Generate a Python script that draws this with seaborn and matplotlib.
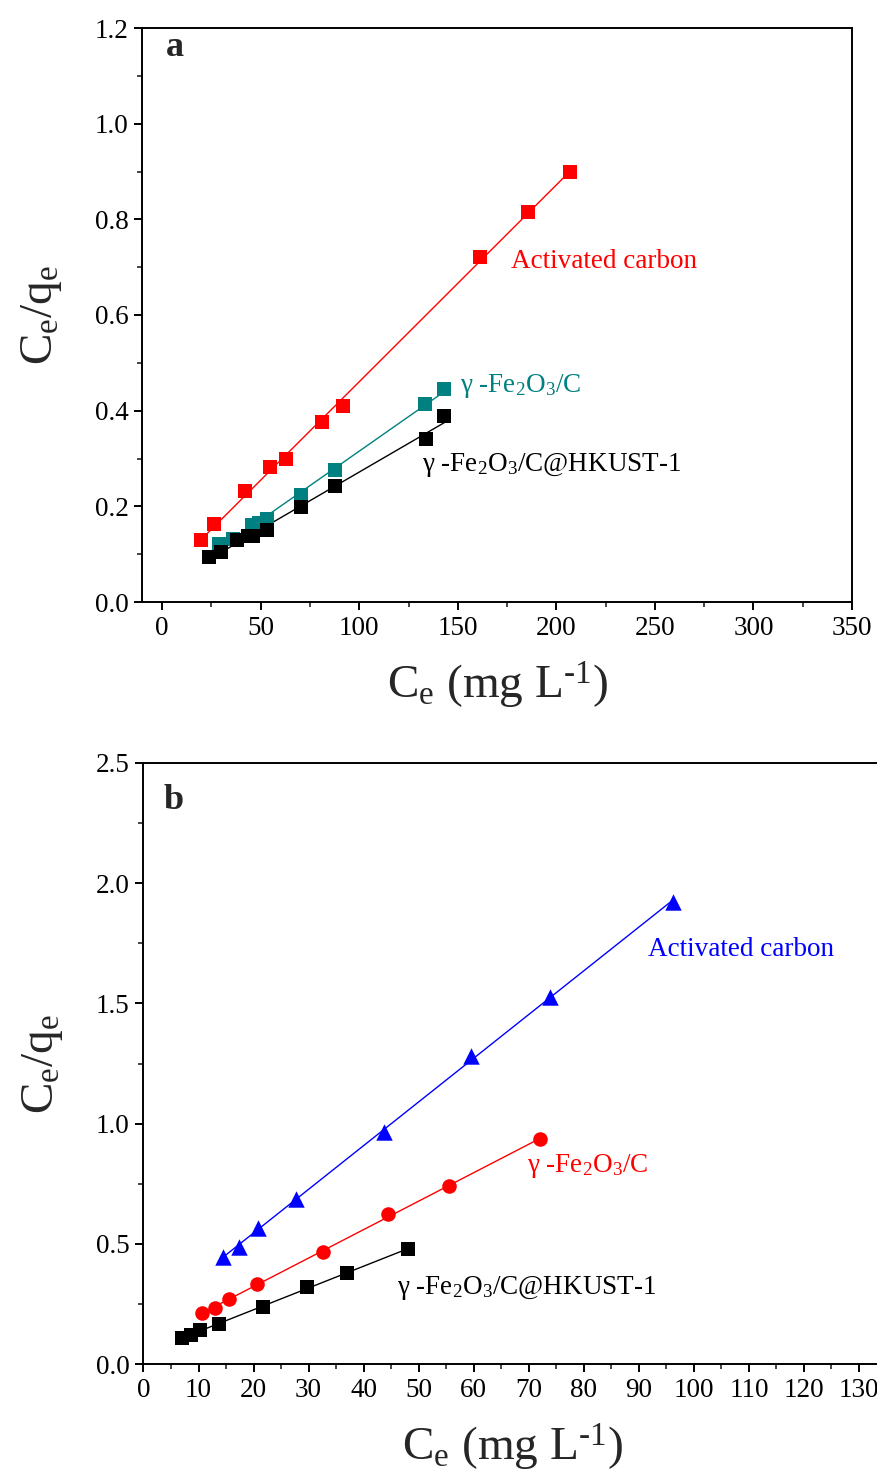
import numpy as np
import pandas as pd
import matplotlib
matplotlib.use("Agg")
import matplotlib.pyplot as plt
import seaborn as sns
from matplotlib.ticker import MultipleLocator

# ---------------- data: panel a ----------------
a_ac_x = [19.8, 26.4, 42.2, 54.7, 62.8, 81.3, 91.9, 161.0, 185.7, 206.7]
a_ac_y = [0.129, 0.163, 0.233, 0.282, 0.300, 0.376, 0.410, 0.721, 0.816, 0.898]
a_fe_x = [28.9, 35.9, 45.4, 48.9, 53.2, 70.4, 87.9, 133.4, 143.2]
a_fe_y = [0.121, 0.132, 0.161, 0.165, 0.173, 0.224, 0.276, 0.413, 0.445]
a_hk_x = [23.9, 29.8, 37.9, 43.3, 46.1, 53.3, 70.6, 87.9, 133.6, 143.2]
a_hk_y = [0.094, 0.105, 0.129, 0.138, 0.138, 0.151, 0.199, 0.243, 0.340, 0.389]

# ---------------- data: panel b ----------------
b_ac_x = [14.4, 17.4, 20.8, 27.7, 43.7, 59.5, 73.9, 96.2]
b_ac_y = [0.445, 0.487, 0.566, 0.686, 0.965, 1.281, 1.527, 1.922]
b_fe_x = [10.7, 13.0, 15.5, 20.7, 32.6, 44.5, 55.5, 72.0]
b_fe_y = [0.213, 0.234, 0.272, 0.332, 0.467, 0.623, 0.739, 0.936]
b_hk_x = [7.05, 8.6, 10.3, 13.8, 21.8, 29.7, 36.9, 48.1]
b_hk_y = [0.109, 0.121, 0.140, 0.168, 0.238, 0.319, 0.380, 0.478]

labels_a = ["Activated carbon", "γ -Fe$_2$O$_3$/C", "γ -Fe$_2$O$_3$/C@HKUST-1"]
labels_b = ["Activated carbon", "γ -Fe$_2$O$_3$/C", "γ -Fe$_2$O$_3$/C@HKUST-1"]
xlabel = r"C$_e$ (mg L$^{\text{-}1}$)"
ylabel = "C$_e$/q$_e$"

sns.set_theme(style="ticks")
plt.rcParams["font.family"] = ["Liberation Serif", "DejaVu Serif"]
plt.rcParams["mathtext.fontset"] = "custom"
plt.rcParams["mathtext.rm"] = "Liberation Serif"
plt.rcParams["mathtext.it"] = "Liberation Serif"
plt.rcParams["mathtext.default"] = "regular"

W, H = 878, 1479
fig = plt.figure(figsize=(W / 100, H / 100), dpi=100)


def px_axes(l, r, t, b):
    return fig.add_axes([l / W, 1 - b / H, (r - l) / W, (b - t) / H])


def style_axes(ax):
    for s in ax.spines.values():
        s.set_linewidth(1.4)
        s.set_color("black")
    ax.tick_params(which="major", direction="out", length=6, width=1.4,
                   labelsize=19.5, colors="black", pad=4)
    ax.tick_params(which="minor", direction="out", length=3.5, width=1.2)
    ax.tick_params(top=False, right=False, which="both")


def draw(ax, xs, ys, color, marker, size):
    df = pd.DataFrame({"x": xs, "y": ys})
    sns.regplot(data=df, x="x", y="y", ax=ax, ci=None, scatter=False,
                truncate=True, color=color, line_kws={"lw": 1.0})
    sns.scatterplot(data=df, x="x", y="y", ax=ax, color=color, marker=marker,
                    s=size, linewidth=0, zorder=3)


# ---------------- panel a ----------------
axa = px_axes(142.5, 852, 28, 602)
draw(axa, a_ac_x, a_ac_y, "#ff0000", "s", 95)
draw(axa, a_fe_x, a_fe_y, "#008080", "s", 95)
draw(axa, a_hk_x, a_hk_y, "#000000", "s", 95)
axa.set_xlim(-10, 350)
axa.set_ylim(0, 1.2)
axa.xaxis.set_major_locator(MultipleLocator(50))
axa.xaxis.set_minor_locator(MultipleLocator(25))
axa.yaxis.set_major_locator(MultipleLocator(0.2))
axa.yaxis.set_minor_locator(MultipleLocator(0.1))
axa.yaxis.set_major_formatter(matplotlib.ticker.FormatStrFormatter("%.1f"))
style_axes(axa)
axa.set_xlabel(xlabel, fontsize=34, labelpad=14)
axa.set_ylabel(ylabel, fontsize=34, labelpad=22)
axa.text(6.6, 1.159, "a", fontsize=26, fontweight="bold", ha="center", va="center")
axa.text(177, 0.711, labels_a[0], color="#ff0000", fontsize=19.5, ha="left", va="center")
axa.text(151.2, 0.452, labels_a[1], color="#008080", fontsize=19.5, ha="left", va="center")
axa.text(131.9, 0.287, labels_a[2], color="#000000", fontsize=19.5, ha="left", va="center")

# ---------------- panel b ----------------
axb = px_axes(143.5, 881, 763, 1364)
draw(axb, b_ac_x, b_ac_y, "#0000ff", "^", 140)
draw(axb, b_fe_x, b_fe_y, "#ff0000", "o", 110)
draw(axb, b_hk_x, b_hk_y, "#000000", "s", 95)
axb.set_xlim(0, 134)
axb.set_ylim(0, 2.5)
axb.xaxis.set_major_locator(MultipleLocator(10))
axb.xaxis.set_minor_locator(MultipleLocator(5))
axb.yaxis.set_major_locator(MultipleLocator(0.5))
axb.yaxis.set_minor_locator(MultipleLocator(0.25))
axb.yaxis.set_major_formatter(matplotlib.ticker.FormatStrFormatter("%.1f"))
style_axes(axb)
axb.set_xlabel(xlabel, fontsize=34, labelpad=14)
axb.set_ylabel(ylabel, fontsize=34, labelpad=22)
axb.text(5.4, 2.346, "b", fontsize=26, fontweight="bold", ha="center", va="center")
axb.text(91.7, 1.726, labels_b[0], color="#0000ff", fontsize=19.5, ha="left", va="center")
axb.text(69.7, 0.824, labels_b[1], color="#ff0000", fontsize=19.5, ha="left", va="center")
axb.text(46.1, 0.316, labels_b[2], color="#000000", fontsize=19.5, ha="left", va="center")

fig.savefig("out.png", dpi=100)
